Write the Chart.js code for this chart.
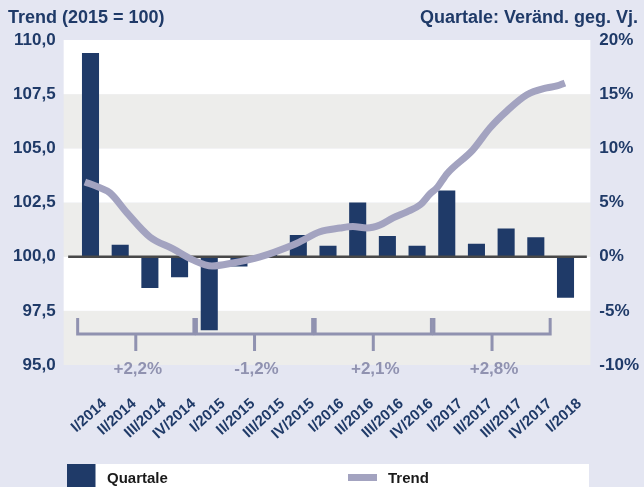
<!DOCTYPE html>
<html lang="de">
<head>
<meta charset="UTF-8">
<title>Trend und Quartale</title>
<script src="https://cdn.jsdelivr.net/npm/chart.js"></script>
<style>
  html, body { margin: 0; padding: 0; background: #e4e6f2; }
  canvas { display: block; }
</style>
</head>
<body>
<canvas id="trendChart" width="644" height="487"></canvas>
<script>
// quarters on the x axis
const quarters = ['I/2014', 'II/2014', 'III/2014', 'IV/2014',
                  'I/2015', 'II/2015', 'III/2015', 'IV/2015',
                  'I/2016', 'II/2016', 'III/2016', 'IV/2016',
                  'I/2017', 'II/2017', 'III/2017', 'IV/2017', 'I/2018'];

// bars: change against previous year, % (right axis)
const quarterChange = [18.8, 1.1, -2.9, -1.9, -6.8, -0.9, 0.2, 2.0,
                       1.0, 5.0, 1.9, 1.0, 6.1, 1.2, 2.6, 1.8, -3.8];

// trend line (position in quarter units, index value)
const trendPos = [-0.19, 0.25, 0.66, 1.23, 2.0, 2.78, 3.45, 4.09, 4.8, 5.71,
                  6.82, 7.06, 7.73, 8.4, 8.84, 9.31, 9.75, 10.19, 10.66, 11.1,
                  11.44, 11.67, 12.01, 12.88, 13.46, 14.03, 14.7, 15.37, 15.71, 15.98];
const trendValues = [103.45, 103.22, 102.94, 102.02, 100.91, 100.36, 99.85, 99.57, 99.71, 99.99,
                     100.54, 100.69, 101.15, 101.32, 101.39, 101.32, 101.46, 101.79, 102.07, 102.39,
                     102.9, 103.18, 103.83, 104.93, 105.95, 106.73, 107.47, 107.79, 107.88, 108.02];

// tick labels
const trendTicks = [95, 97.5, 100, 102.5, 105, 107.5, 110];
const changeTicks = [-10, -5, 0, 5, 10, 15, 20];

// yearly averages under the brackets
const groupLabels = ['+2,2%', '-1,2%', '+2,1%', '+2,8%'];
const groupStart = [0, 4, 8, 12];
const groupSize = 4;

const BG = '#e4e6f2';
const BAND = '#ededeb';
const NAVY = '#1f3a68';
const LILAC = '#a3a3c0';
const BRACKET = '#9092b0';
const FONT = '"Liberation Sans", Arial, sans-serif';

const decor = {
    id: 'decor',
    beforeDraw(chart) {
        const { ctx, chartArea: a, scales } = chart;
        const y = scales.y;
        ctx.save();
        ctx.fillStyle = BG;
        ctx.fillRect(0, 0, chart.width, chart.height);
        const left = a.left - 12, right = a.right + 10;
        for (let i = 0; i < trendTicks.length - 1; i++) {
            const top = y.getPixelForValue(trendTicks[i + 1]);
            const bot = y.getPixelForValue(trendTicks[i]);
            ctx.fillStyle = (i % 2 === 0) ? BAND : '#ffffff';
            ctx.fillRect(left, top, right - left, bot - top);
        }
        ctx.restore();
    },
    afterDatasetDraw(chart, args) {
        if (args.index !== 1) return;
        // zero line over the bars, under the trend
        const { ctx, chartArea: a, scales } = chart;
        const y0 = scales.y2.getPixelForValue(0);
        ctx.save();
        ctx.strokeStyle = '#484848';
        ctx.lineWidth = 2.5;
        ctx.beginPath();
        ctx.moveTo(a.left - 7.5, y0);
        ctx.lineTo(a.right + 6.5, y0);
        ctx.stroke();
        ctx.restore();
    },
    afterDraw(chart) {
        const { ctx, chartArea: a, scales } = chart;
        const x = scales.x;
        const half = (x.getPixelForValue(1) - x.getPixelForValue(0)) / 2;
        ctx.save();

        // brackets for each year
        ctx.strokeStyle = BRACKET;
        ctx.lineWidth = 3;
        ctx.fillStyle = BRACKET;
        ctx.font = 'bold 17px ' + FONT;
        ctx.textAlign = 'center';
        ctx.textBaseline = 'middle';
        groupLabels.forEach((label, g) => {
            const l = x.getPixelForValue(groupStart[g]) - half + 2;
            const r = x.getPixelForValue(groupStart[g] + groupSize - 1) + half - 0.5;
            const c = (l + r) / 2;
            const top = a.bottom - 47, mid = a.bottom - 31, low = a.bottom - 14;
            ctx.beginPath();
            ctx.moveTo(l, top); ctx.lineTo(l, mid); ctx.lineTo(r, mid); ctx.lineTo(r, top);
            ctx.moveTo(c, mid); ctx.lineTo(c, low);
            ctx.stroke();
            ctx.fillText(label, c + 2, a.bottom + 4);
        });

        // titles
        ctx.fillStyle = NAVY;
        ctx.font = 'bold 18px ' + FONT;
        ctx.textBaseline = 'alphabetic';
        ctx.textAlign = 'left';
        ctx.fillText('Trend (2015 = 100)', 8, 23);
        ctx.textAlign = 'right';
        ctx.fillText('Quartale: Veränd. geg. Vj.', 638, 23);

        // legend
        ctx.fillStyle = '#ffffff';
        ctx.fillRect(67, 464, 522, 23);
        ctx.fillStyle = NAVY;
        ctx.fillRect(67, 464, 28.5, 23);
        ctx.strokeStyle = LILAC;
        ctx.lineWidth = 7;
        ctx.beginPath();
        ctx.moveTo(348, 477.5);
        ctx.lineTo(377, 477.5);
        ctx.stroke();
        ctx.fillStyle = '#1a1a1a';
        ctx.font = 'bold 15px ' + FONT;
        ctx.textAlign = 'left';
        ctx.fillText('Quartale', 107, 482.5);
        ctx.fillText('Trend', 388, 482.5);

        ctx.restore();
    }
};

const ctx = document.getElementById('trendChart').getContext('2d');

const trendChart = new Chart(ctx, {
    data: {
        labels: quarters,
        datasets: [{
            type: 'line',
            label: 'Trend',
            data: trendPos.map((p, i) => ({ x: p, y: trendValues[i] })),
            xAxisID: 'xt',
            yAxisID: 'y',
            borderColor: LILAC,
            borderWidth: 7,
            borderCapStyle: 'butt',
            pointRadius: 0,
            cubicInterpolationMode: 'monotone',
            order: 0
        }, {
            type: 'bar',
            label: 'Quartale',
            data: quarterChange,
            xAxisID: 'x',
            yAxisID: 'y2',
            backgroundColor: NAVY,
            grouped: false,
            categoryPercentage: 1,
            barPercentage: 0.575,
            order: 1
        }]
    },
    options: {
        responsive: false,
        animation: false,
        devicePixelRatio: 1,
        layout: { padding: { top: 40, left: 0, right: 0, bottom: 0 } },
        plugins: {
            legend: { display: false },
            tooltip: { enabled: false }
        },
        scales: {
            x: {
                type: 'category',
                offset: true,
                grid: { display: false, drawTicks: false },
                border: { display: false },
                ticks: {
                    autoSkip: false,
                    minRotation: 42,
                    maxRotation: 42,
                    padding: 30,
                    labelOffset: 14,
                    color: NAVY,
                    font: { family: FONT, size: 15, weight: 'bold' }
                },
                afterFit(scale) { scale.height = 122; }
            },
            xt: {
                type: 'linear',
                display: false,
                min: -0.5,
                max: 16.5
            },
            y: {
                position: 'left',
                min: 95,
                max: 110,
                grid: { display: false, drawTicks: false },
                border: { display: false },
                afterBuildTicks(scale) { scale.ticks = trendTicks.map(v => ({ value: v })); },
                ticks: {
                    padding: 20,
                    color: NAVY,
                    font: { family: FONT, size: 17, weight: 'bold' },
                    callback: v => v.toFixed(1).replace('.', ',')
                },
                afterFit(scale) { scale.width = 75.66; }
            },
            y2: {
                position: 'right',
                min: -10,
                max: 20,
                grid: { display: false, drawTicks: false },
                border: { display: false },
                afterBuildTicks(scale) { scale.ticks = changeTicks.map(v => ({ value: v })); },
                ticks: {
                    padding: 19,
                    color: NAVY,
                    font: { family: FONT, size: 17, weight: 'bold' },
                    callback: v => v + '%'
                },
                afterFit(scale) { scale.width = 63.65; }
            }
        }
    },
    plugins: [decor]
});
</script>
</body>
</html>
